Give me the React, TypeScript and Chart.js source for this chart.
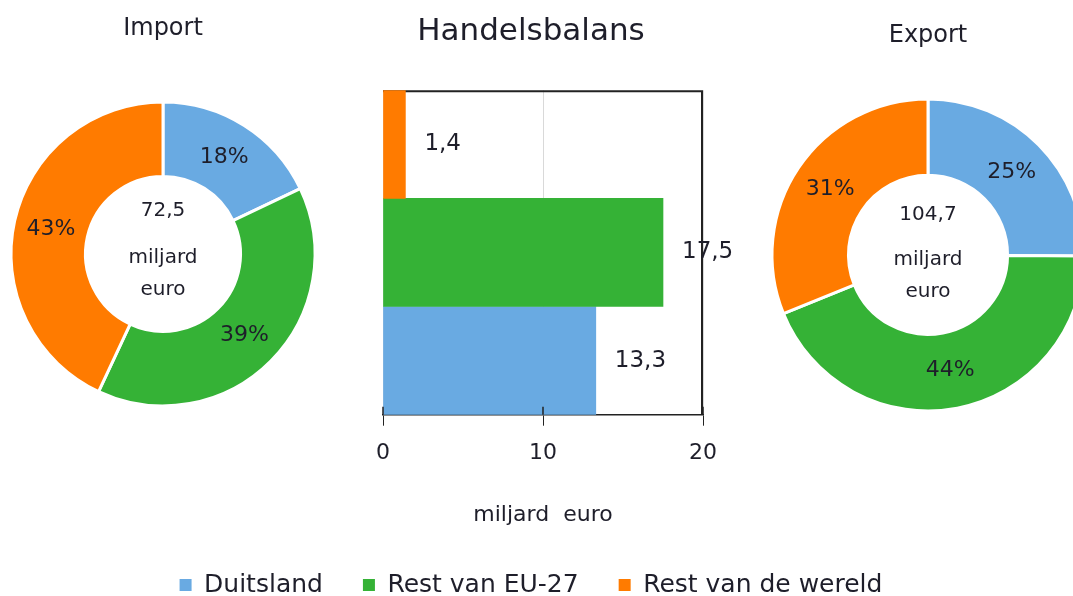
import React, { useEffect, useRef } from 'react';
import { Chart, registerables } from 'chart.js';

Chart.register(...registerables);

const categories = ['Duitsland', 'Rest van EU-27', 'Rest van de wereld'];
const colors = ['#69aae2', '#35b236', '#ff7b00'];
const importValues = [13.0, 28.3, 31.2];
const exportValues = [26.3, 45.8, 32.6];
const balanceValues = [13.3, 17.5, 1.4];
const balanceTicks = [0, 10, 20];
const centerLines = ['miljard', 'euro'];

const FONT = '"DejaVu Sans", Verdana, sans-serif';
const TEXT = '#1e1e2a';

const fmt = (v: number) => v.toFixed(1).replace('.', ',');

function doughnutLabels(offsets: number[]) {
  return {
    id: 'doughnutLabels',
    afterDatasetsDraw(chart: any) {
      const ctx = chart.ctx;
      const meta = chart.getDatasetMeta(0);
      const data = chart.data.datasets[0].data as number[];
      const total = data.reduce((a, b) => a + b, 0);
      ctx.save();
      ctx.fillStyle = TEXT;
      ctx.textAlign = 'center';
      ctx.textBaseline = 'middle';
      ctx.font = `22px ${FONT}`;
      meta.data.forEach((arc: any, i: number) => {
        const p = arc.tooltipPosition();
        ctx.fillText(Math.round((data[i] / total) * 100) + '%', p.x, p.y);
      });
      const a = chart.chartArea;
      const cx = (a.left + a.right) / 2;
      const cy = (a.top + a.bottom) / 2;
      ctx.font = `20px ${FONT}`;
      ctx.fillText(fmt(total), cx, cy + offsets[0]);
      ctx.fillText(centerLines[0], cx, cy + offsets[1]);
      ctx.fillText(centerLines[1], cx, cy + offsets[2]);
      ctx.restore();
    },
  };
}

function makeDoughnut(
  canvas: HTMLCanvasElement,
  title: string,
  values: number[],
  radius: number,
  titlePad: { top: number; bottom: number },
  bottomPad: number,
  offsets: number[]
) {
  return new Chart(canvas, {
    type: 'doughnut',
    data: {
      labels: categories,
      datasets: [
        {
          data: values,
          backgroundColor: colors,
          borderColor: '#ffffff',
          borderWidth: 3,
        },
      ],
    },
    options: {
      animation: false,
      responsive: false,
      radius: radius,
      cutout: '51%',
      layout: { padding: { top: 0, left: 0, right: 0, bottom: bottomPad } },
      plugins: {
        legend: { display: false },
        tooltip: { enabled: false },
        title: {
          display: true,
          text: title,
          color: TEXT,
          font: { family: FONT, size: 24, weight: 'normal' },
          padding: titlePad,
        },
      },
    } as any,
    plugins: [doughnutLabels(offsets)],
  });
}

const barFrame = {
  id: 'barFrame',
  beforeDatasetsDraw(chart: any) {
    const { ctx, chartArea: a } = chart;
    ctx.save();
    ctx.strokeStyle = '#222222';
    ctx.lineWidth = 2;
    ctx.beginPath();
    ctx.moveTo(a.left, a.top + 1);
    ctx.lineTo(a.right - 1, a.top + 1);
    ctx.lineTo(a.right - 1, a.bottom);
    ctx.stroke();
    ctx.restore();
  },
  afterDatasetsDraw(chart: any) {
    const { ctx, chartArea: a } = chart;
    const x = chart.scales.x;
    ctx.save();
    ctx.strokeStyle = '#222222';
    ctx.lineWidth = 1.5;
    balanceTicks.forEach((v) => {
      const px = x.getPixelForValue(v);
      ctx.beginPath();
      ctx.moveTo(px, a.bottom - 8);
      ctx.lineTo(px, a.bottom);
      ctx.stroke();
    });
    const meta = chart.getDatasetMeta(0);
    ctx.fillStyle = TEXT;
    ctx.font = `23px ${FONT}`;
    ctx.textAlign = 'left';
    ctx.textBaseline = 'middle';
    meta.data.forEach((bar: any, i: number) => {
      ctx.fillText(fmt(balanceValues[i]), bar.x + 19, bar.y);
    });
    ctx.restore();
  },
};

const hiddenAxis = (pos: string, width: number, extra: any = {}) => ({
  type: 'category',
  position: pos,
  display: true,
  grid: { display: false },
  border: { display: false },
  ticks: { display: false },
  afterFit: (s: any) => {
    s.width = width;
  },
  ...extra,
});

export default function App() {
  const barRef = useRef<HTMLCanvasElement>(null);
  const impRef = useRef<HTMLCanvasElement>(null);
  const expRef = useRef<HTMLCanvasElement>(null);

  useEffect(() => {
    document.body.style.margin = '0';
    const bar = new Chart(barRef.current!, {
      type: 'bar',
      data: {
        labels: categories,
        datasets: [
          {
            data: balanceValues,
            backgroundColor: colors,
            borderWidth: 0,
            barPercentage: 1,
            categoryPercentage: 1,
          },
        ],
      },
      options: {
        indexAxis: 'y',
        animation: false,
        responsive: false,
        layout: { padding: { left: 0, right: 11, top: 0, bottom: -11.5 } },
        scales: {
          y: hiddenAxis('left', 383, { reverse: true }),
          y2: hiddenAxis('right', 359),
          x: {
            min: 0,
            max: 20,
            afterBuildTicks: (scale: any) => {
              scale.ticks = balanceTicks.map((v) => ({ value: v }));
            },
            ticks: {
              color: TEXT,
              font: { family: FONT, size: 22 },
              padding: 14,
            },
            grid: {
              color: '#d9d9d9',
              tickColor: '#222222',
              tickLength: 11,
              lineWidth: 1,
            },
            border: { color: '#222222', width: 1.5 },
            title: {
              display: true,
              text: 'miljard  euro',
              color: TEXT,
              font: { family: FONT, size: 22 },
              padding: { top: 22, bottom: 4 },
            },
          },
        },
        plugins: {
          tooltip: { enabled: false },
          title: {
            display: true,
            text: 'Handelsbalans',
            color: TEXT,
            font: { family: FONT, size: 31, weight: 'normal' },
            padding: { top: 13, bottom: 40 },
          },
          legend: {
            position: 'bottom',
            labels: {
              boxWidth: 12,
              boxHeight: 12,
              padding: 40,
              color: TEXT,
              font: { family: FONT, size: 25 },
              generateLabels: () =>
                categories.map((c, i) => ({
                  text: c,
                  fillStyle: colors[i],
                  strokeStyle: colors[i],
                  lineWidth: 0,
                  hidden: false,
                  index: i,
                  fontColor: TEXT,
                })),
            },
          },
        },
      } as any,
      plugins: [barFrame],
    });

    const imp = makeDoughnut(impRef.current!, 'Import', importValues, 152, { top: 14, bottom: 59 }, 14, [-43, 4, 36]);
    const exp = makeDoughnut(expRef.current!, 'Export', exportValues, 156, { top: 21, bottom: 49 }, 9, [-40, 5, 37]);

    return () => {
      bar.destroy();
      imp.destroy();
      exp.destroy();
    };
  }, []);

  return (
    <div style={{ position: 'relative', width: 1073, height: 596, overflow: 'hidden', background: '#fff' }}>
      <canvas ref={barRef} width={1073} height={596} style={{ position: 'absolute', left: 0, top: 0 }} />
      <canvas ref={impRef} width={326} height={420} style={{ position: 'absolute', left: 0, top: 0 }} />
      <canvas ref={expRef} width={340} height={420} style={{ position: 'absolute', left: 758, top: 0 }} />
    </div>
  );
}
